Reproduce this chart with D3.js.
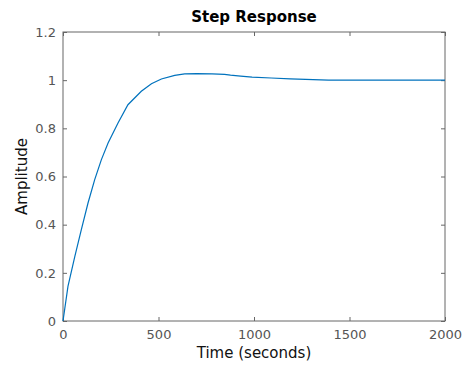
<!DOCTYPE html>
<html>
<head>
<meta charset="utf-8">
<script src="https://cdn.jsdelivr.net/npm/d3@7"></script>
<style>
  body { margin: 0; background: #fff; }
  svg text { font-family: "DejaVu Sans", sans-serif; }
</style>
</head>
<body>
<div class="viewbox"></div>
<script>
// step response samples
const times = [0, 26, 62, 96, 131, 166, 201, 236, 288, 340, 410, 463, 515, 585, 637, 700, 780, 846, 877, 930, 990, 1090, 1190, 1390, 2000];
const amps  = [0, 0.144, 0.268, 0.379, 0.49, 0.587, 0.67, 0.739, 0.822, 0.898, 0.954, 0.985, 1.005, 1.02, 1.026, 1.027, 1.026, 1.024, 1.021, 1.017, 1.013, 1.009, 1.005, 1.0, 1.0];
const xTicks = [0, 500, 1000, 1500, 2000];
const yTicks = [0, 0.2, 0.4, 0.6, 0.8, 1, 1.2];

const W = 475, H = 366;
const m = { left: 63, right: 30, top: 32, bottom: 45 };

const svg = d3.select(".viewbox").append("svg")
  .attr("width", W).attr("height", H);

const x = d3.scaleLinear().domain([0, 2000]).range([m.left, W - m.right]);
const y = d3.scaleLinear().domain([0, 1.2]).range([H - m.bottom, m.top]);

const axisColor = "#666";
const labelColor = "#555";

// ticks on all four sides, pointing inward
function styleAxis(g) {
  g.select(".domain").remove();
  g.selectAll("line").attr("stroke", axisColor);
  g.selectAll("text").attr("fill", labelColor).attr("font-size", 13);
}

svg.append("g").attr("transform", `translate(0,${y(0)})`)
  .call(d3.axisBottom(x).tickValues(xTicks).tickSize(-4).tickPadding(9).tickFormat(d3.format("d")))
  .call(styleAxis);
svg.append("g").attr("transform", `translate(0,${y(1.2)})`)
  .call(d3.axisTop(x).tickValues(xTicks).tickSize(-4).tickFormat(""))
  .call(styleAxis);
svg.append("g").attr("transform", `translate(${x(0)},0)`)
  .call(d3.axisLeft(y).tickValues(yTicks).tickSize(-4).tickPadding(7).tickFormat(d => d3.format("~g")(d)))
  .call(styleAxis);
svg.append("g").attr("transform", `translate(${x(2000)},0)`)
  .call(d3.axisRight(y).tickValues(yTicks).tickSize(-4).tickFormat(""))
  .call(styleAxis);

// box
svg.append("rect")
  .attr("x", x(0)).attr("y", y(1.2))
  .attr("width", x(2000) - x(0)).attr("height", y(0) - y(1.2))
  .attr("fill", "none").attr("stroke", axisColor).attr("stroke-width", 1);

const pts = times.map((t, i) => [t, amps[i]]);
svg.append("path")
  .datum(pts)
  .attr("fill", "none")
  .attr("stroke", "#0072bd")
  .attr("stroke-width", 1.2)
  .attr("d", d3.line().x(d => x(d[0])).y(d => y(d[1])));

svg.append("text")
  .attr("x", (x(0) + x(2000)) / 2).attr("y", 22)
  .attr("text-anchor", "middle").attr("font-size", 15).attr("font-weight", "bold")
  .attr("fill", "#000").text("Step Response");

svg.append("text")
  .attr("x", (x(0) + x(2000)) / 2).attr("y", 358)
  .attr("text-anchor", "middle").attr("font-size", 15)
  .attr("fill", "#111").text("Time (seconds)");

svg.append("text")
  .attr("transform", `translate(27,${(y(0) + y(1.2)) / 2}) rotate(-90)`)
  .attr("text-anchor", "middle").attr("font-size", 15)
  .attr("fill", "#111").text("Amplitude");
</script>
</body>
</html>
